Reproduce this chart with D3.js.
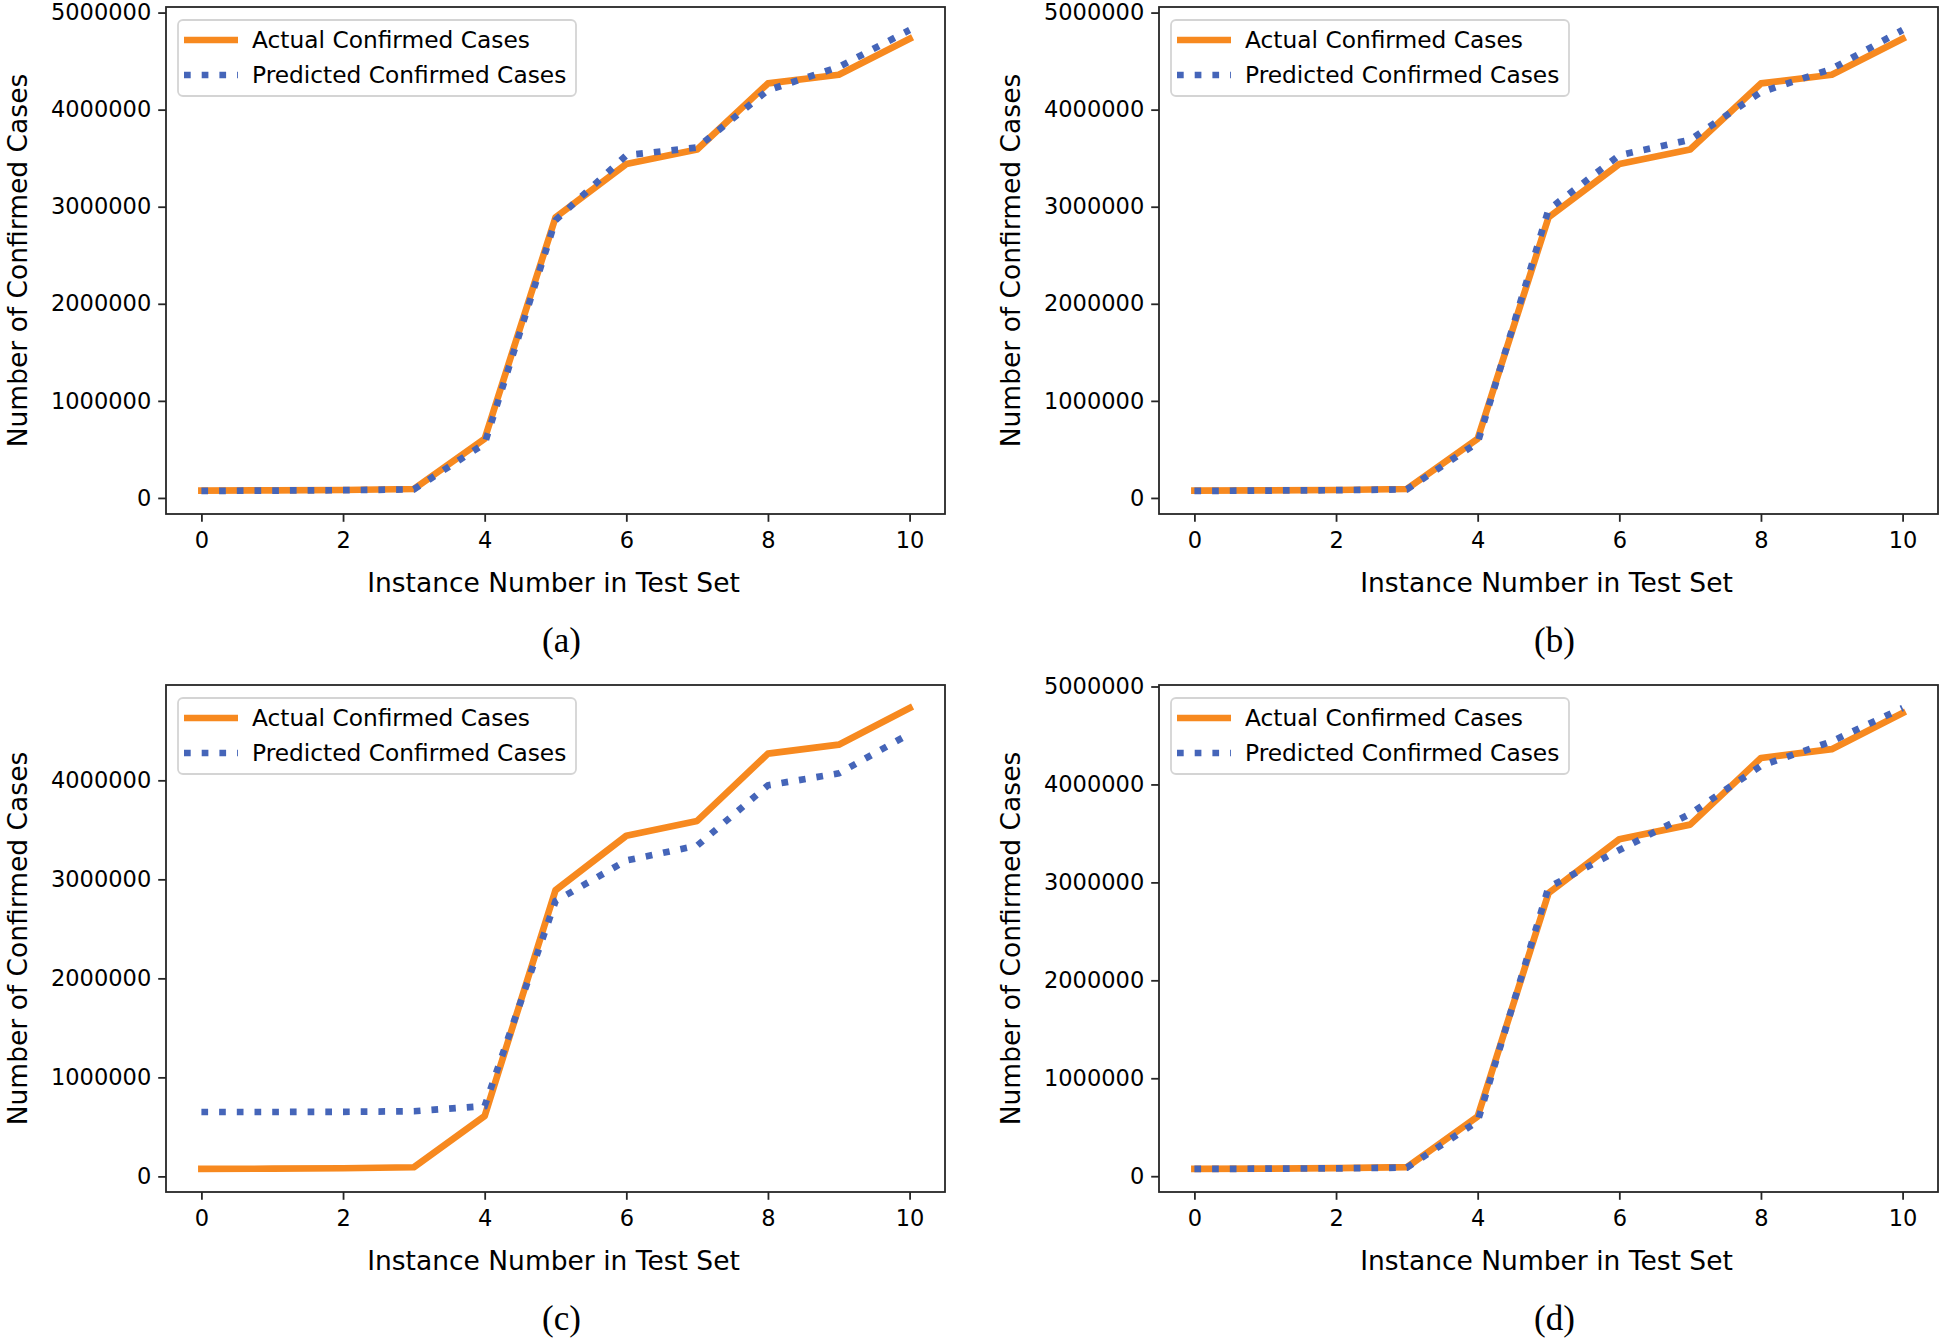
<!DOCTYPE html>
<html>
<head>
<meta charset="utf-8">
<script src="https://cdn.jsdelivr.net/npm/d3@7"></script>
<style>
  body { margin: 0; background: #fff; }
  svg { display: block; }
</style>
</head>
<body>
<svg id="chart"></svg>
<script>
// Data
const instances = [0, 1, 2, 3, 4, 5, 6, 7, 8, 9, 10];
const actualCases = [75000, 78000, 82000, 92000, 610000, 2890000, 3440000, 3590000, 4270000, 4360000, 4730000];
const predictedA = [72000, 76000, 80000, 88000, 560000, 2860000, 3530000, 3610000, 4200000, 4440000, 4820000];
const predictedB = [72000, 76000, 80000, 88000, 570000, 2970000, 3530000, 3690000, 4180000, 4420000, 4820000];
const predictedC = [650000, 650000, 652000, 658000, 710000, 2780000, 3190000, 3340000, 3950000, 4070000, 4470000];
const predictedD = [74000, 77000, 80000, 88000, 560000, 2950000, 3330000, 3700000, 4190000, 4440000, 4780000];
const panelLetters = ["(a)", "(b)", "(c)", "(d)"];
const xTickValues = [0, 2, 4, 6, 8, 10];
const yTickValues = [0, 1000000, 2000000, 3000000, 4000000, 5000000];
const seriesNames = ["Actual Confirmed Cases", "Predicted Confirmed Cases"];

const W = 1943, H = 1340;
const svg = d3.select("#chart").attr("width", W).attr("height", H);

const plotW = 779, plotH = 507;
const orange = "#f7891f";
const blue = "#4565b9";
const frameColor = "#262626";
const sans = "'DejaVu Sans', sans-serif";

const panels = [
  { left: 166, top: 7, pred: predictedA, label: panelLetters[0] },
  { left: 1159, top: 7, pred: predictedB, label: panelLetters[1] },
  { left: 166, top: 685, pred: predictedC, label: panelLetters[2] },
  { left: 1159, top: 685, pred: predictedD, label: panelLetters[3] }
];

panels.forEach(p => drawPanel(p));

function drawPanel(p) {
  const g = svg.append("g").attr("transform", `translate(${p.left},${p.top})`);

  // matplotlib-style 5% margins
  const xExt = d3.extent(instances);
  const xPad = (xExt[1] - xExt[0]) * 0.05;
  const x = d3.scaleLinear().domain([xExt[0] - xPad, xExt[1] + xPad]).range([0, plotW]);

  const yExt = d3.extent(actualCases.concat(p.pred));
  const yPad = (yExt[1] - yExt[0]) * 0.05;
  const y = d3.scaleLinear().domain([yExt[0] - yPad, yExt[1] + yPad]).range([plotH, 0]);

  const clipId = "clip" + p.label.replace(/\W/g, "");
  g.append("clipPath").attr("id", clipId)
    .append("rect").attr("width", plotW).attr("height", plotH);

  const line = d3.line().x((d, i) => x(instances[i])).y(d => y(d));

  const lines = g.append("g").attr("clip-path", `url(#${clipId})`);
  lines.append("path")
    .attr("d", line(actualCases))
    .attr("fill", "none")
    .attr("stroke", orange)
    .attr("stroke-width", 6.7)
    .attr("stroke-linejoin", "round")
    .attr("stroke-linecap", "square");

  lines.append("path")
    .attr("d", line(p.pred))
    .attr("fill", "none")
    .attr("stroke", blue)
    .attr("stroke-width", 6.7)
    .attr("stroke-dasharray", "6.7,11")
    .attr("stroke-linecap", "butt");

  // axes
  const xAxis = d3.axisBottom(x).tickValues(xTickValues).tickSize(7.8).tickPadding(10).tickFormat(d3.format("d"));
  const yTicks = yTickValues.filter(v => v >= y.domain()[0] && v <= y.domain()[1]);
  const yAxis = d3.axisLeft(y).tickValues(yTicks).tickSize(7.8).tickPadding(7).tickFormat(d3.format("d"));

  const gx = g.append("g").attr("transform", `translate(0,${plotH})`).call(xAxis);
  const gy = g.append("g").call(yAxis);
  [gx, gy].forEach(a => {
    a.select(".domain").remove();
    a.selectAll(".tick line").attr("stroke", frameColor).attr("stroke-width", 1.8);
    a.selectAll(".tick text")
      .attr("fill", "#000")
      .style("font-family", sans)
      .style("font-size", "22.5px");
  });

  // frame
  g.append("rect")
    .attr("width", plotW).attr("height", plotH)
    .attr("fill", "none")
    .attr("stroke", frameColor)
    .attr("stroke-width", 1.8);

  // axis labels
  g.append("text")
    .attr("x", plotW / 2 - 2)
    .attr("y", plotH + 78)
    .attr("text-anchor", "middle")
    .style("font-family", sans)
    .style("font-size", "26.5px")
    .attr("fill", "#000")
    .text("Instance Number in Test Set");

  g.append("text")
    .attr("transform", `translate(-139,${plotH / 2}) rotate(-90)`)
    .attr("text-anchor", "middle")
    .style("font-family", sans)
    .style("font-size", "26.5px")
    .attr("fill", "#000")
    .text("Number of Confirmed Cases");

  // legend
  const lg = g.append("g").attr("transform", "translate(12,13)");
  lg.append("rect")
    .attr("width", 398).attr("height", 76)
    .attr("rx", 5).attr("ry", 5)
    .attr("fill", "#fff").attr("fill-opacity", 0.85)
    .attr("stroke", "#d4d4d4").attr("stroke-width", 1.8);

  const styles = [
    { color: orange, dash: null, cap: "butt" },
    { color: blue, dash: "6.7,11", cap: "butt" }
  ];
  seriesNames.forEach((name, i) => {
    const row = lg.append("g").attr("transform", `translate(0,${20 + i * 35})`);
    row.append("line")
      .attr("x1", 6).attr("x2", 60)
      .attr("stroke", styles[i].color)
      .attr("stroke-width", 6.7)
      .attr("stroke-dasharray", styles[i].dash)
      .attr("stroke-linecap", styles[i].cap);
    row.append("text")
      .attr("x", 74).attr("y", 8)
      .style("font-family", sans)
      .style("font-size", "23.3px")
      .attr("fill", "#000")
      .text(name);
  });

  // panel letter
  g.append("text")
    .attr("x", plotW / 2 + 6)
    .attr("y", plotH + 138)
    .attr("text-anchor", "middle")
    .style("font-family", "'Liberation Serif', 'Times New Roman', serif")
    .style("font-size", "35px")
    .attr("fill", "#000")
    .text(p.label);
}
</script>
</body>
</html>
